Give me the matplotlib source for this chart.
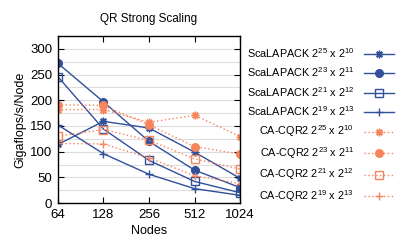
import matplotlib
matplotlib.use("Agg")
import matplotlib.pyplot as plt
from matplotlib.ticker import MultipleLocator

nodes = [64, 128, 256, 512, 1024]

labels = [
    r"ScaLAPACK $2^{25}$ x $2^{10}$",
    r"ScaLAPACK $2^{23}$ x $2^{11}$",
    r"ScaLAPACK $2^{21}$ x $2^{12}$",
    r"ScaLAPACK $2^{19}$ x $2^{13}$",
    r"CA-CQR2 $2^{25}$ x $2^{10}$",
    r"CA-CQR2 $2^{23}$ x $2^{11}$",
    r"CA-CQR2 $2^{21}$ x $2^{12}$",
    r"CA-CQR2 $2^{19}$ x $2^{13}$",
]

scalapack_25 = [114, 159, 146, 99, 48]
scalapack_23 = [272, 197, 120, 64, 30]
scalapack_21 = [246, 144, 83, 42, 20]
scalapack_19 = [152, 96, 56, 28, 15]
cacqr2_25 = [182, 182, 157, 171, 129]
cacqr2_23 = [191, 190, 152, 110, 95]
cacqr2_21 = [130, 143, 122, 86, 66]
cacqr2_19 = [116, 115, 88, 53, 38]

series = [scalapack_25, scalapack_23, scalapack_21, scalapack_19,
          cacqr2_25, cacqr2_23, cacqr2_21, cacqr2_19]

blue = "#30509a"
orange = "#f6845c"
markers = [(8, 2, 0), "o", "s", "+"]

plt.rcParams["font.family"] = ["Liberation Sans", "DejaVu Sans"]
plt.rcParams["mathtext.fontset"] = "custom"
plt.rcParams["mathtext.rm"] = "Liberation Sans"
plt.rcParams["mathtext.it"] = "Liberation Sans"

fig = plt.figure(figsize=(3.99, 2.42), dpi=100)
ax = fig.add_axes([0.145, 0.161, 0.457, 0.690])

for i, vals in enumerate(series):
    m = markers[i % 4]
    if i < 4:
        color, ls = blue, "-"
    else:
        color, ls = orange, (0, (1.0, 1.8))
    mfc = "none" if m == "s" else color
    ms = 6 if m == "+" else 5.5
    ax.plot(nodes, vals, color=color, linestyle=ls, linewidth=1.0,
            marker=m, markersize=ms, markerfacecolor=mfc,
            markeredgewidth=1.0, label=labels[i])

ax.set_xscale("log", base=2)
ax.set_xlim(64, 1024)
ax.set_xticks(nodes)
ax.set_xticklabels([str(n) for n in nodes])
ax.minorticks_off()
ax.set_ylim(0, 325)
ax.yaxis.set_major_locator(MultipleLocator(50))
ax.yaxis.set_minor_locator(MultipleLocator(25))
ax.grid(True, axis="y", which="both", color="#dddddd", linewidth=0.8)
ax.set_axisbelow(True)
ax.tick_params(direction="in", top=True, right=True, labelsize=9.5, length=4, pad=4)
ax.tick_params(which="minor", direction="in", right=True, left=True, length=0)
for s in ax.spines.values():
    s.set_linewidth(1.0)

ax.set_title("QR Strong Scaling", fontsize=8.5, pad=10)
ax.set_xlabel("Nodes", fontsize=9, labelpad=3)
ax.set_ylabel("Gigaflops/s/Node", fontsize=9, labelpad=3)

ax.legend(loc="upper left", bbox_to_anchor=(1.0, 0.98), frameon=False,
          markerfirst=False, fontsize=7.8, handlelength=2.8,
          labelspacing=0.52, handletextpad=0.9, borderaxespad=0.2)

fig.savefig("out.png", dpi=100)
